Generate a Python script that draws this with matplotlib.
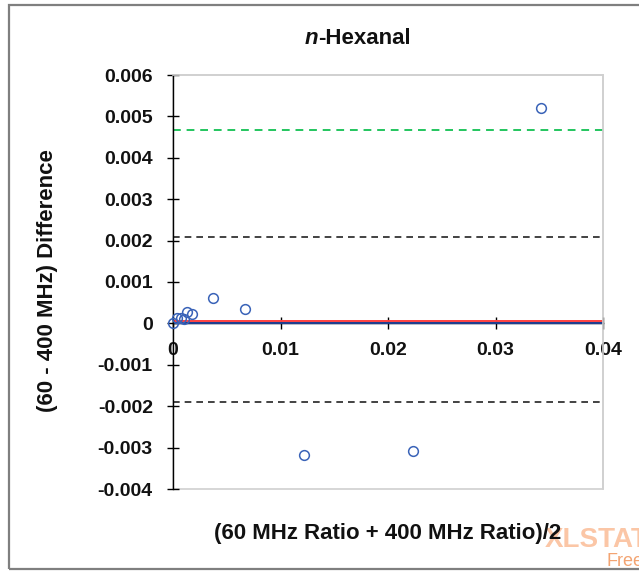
import matplotlib
matplotlib.use("Agg")
import matplotlib.pyplot as plt
from matplotlib.patches import Rectangle

plt.rcParams['font.family'] = ['Liberation Sans', 'DejaVu Sans']

# Bland-Altman data: mean of ratios vs. difference (60 - 400 MHz)
mean_ratio = [0.0, 0.00034, 0.00072, 0.0010, 0.0013, 0.00174, 0.00372, 0.0067,
              0.0122, 0.0223, 0.0342]
difference = [0.0, 0.00013, 0.00013, 0.00010, 0.000275, 0.00023, 0.000614, 0.00035,
              -0.00318, -0.00308, 0.0052]

bias = 0.00007
upper_loa = 0.00208
lower_loa = -0.0019
upper_limit_green = 0.00468

x_ticks = [0, 0.01, 0.02, 0.03, 0.04]
x_tick_labels = ['0', '0.01', '0.02', '0.03', '0.04']
y_ticks = [-0.004, -0.003, -0.002, -0.001, 0, 0.001, 0.002, 0.003, 0.004, 0.005, 0.006]
y_tick_labels = ['-0.004', '-0.003', '-0.002', '-0.001', '0', '0.001', '0.002',
                 '0.003', '0.004', '0.005', '0.006']

W, H = 639, 571
fig = plt.figure(figsize=(W / 100, H / 100), dpi=100)
ax = fig.add_axes([173 / W, 1 - 489 / H, (603 - 173) / W, (489 - 75) / H])
ax.set_xlim(0, 0.04)
ax.set_ylim(-0.004, 0.006)

# reference lines
ax.plot([0, 0.04], [0, 0], color='#1f3f8f', lw=1.6, zorder=2)
ax.plot([0, 0.04], [bias, bias], color='#ff4040', lw=1.4, zorder=2)
ax.plot([0, 0.04], [upper_loa, upper_loa], color='#222222', lw=1.2, ls=(0, (4, 3)), zorder=2)
ax.plot([0, 0.04], [lower_loa, lower_loa], color='#222222', lw=1.2, ls=(0, (4, 3)), zorder=2)
ax.plot([0, 0.04], [upper_limit_green, upper_limit_green], color='#22c55e', lw=1.4,
        ls=(0, (4, 3)), zorder=2)

ax.plot(mean_ratio, difference, ls='none', marker='o', ms=7.0, mfc='none',
        mec='#3a63b8', mew=1.1, zorder=4, clip_on=False)

# axes styling: light frame, y axis at x=0, x axis crossing at y=0
for s in ['top', 'right']:
    ax.spines[s].set_color('#d0d0d0')
    ax.spines[s].set_linewidth(1.2)
ax.spines['left'].set_color('black')
ax.spines['left'].set_linewidth(1.0)
ax.spines['bottom'].set_position(('data', 0))
ax.spines['bottom'].set_color('black')
ax.spines['bottom'].set_linewidth(1.0)
ax.spines['bottom'].set_zorder(1)
ax.add_patch(Rectangle((0, 0), 1, 1, transform=ax.transAxes, fill=False,
                       ec='#d0d0d0', lw=1.2, zorder=0, clip_on=False))

ax.set_xticks(x_ticks)
ax.set_xticklabels(x_tick_labels)
ax.set_yticks(y_ticks)
ax.set_yticklabels(y_tick_labels)
ax.tick_params(axis='both', direction='inout', length=9, width=1.0, color='black',
               labelsize=14)
ax.tick_params(axis='x', pad=9)
ax.tick_params(axis='y', pad=10)
for lab in ax.get_xticklabels() + ax.get_yticklabels():
    lab.set_fontweight('bold')
    lab.set_color('#111111')

# watermark (drawn beneath the axis title)
fig.text(545 / W, 1 - 540 / H, 'XLSTAT', fontsize=20, fontweight='bold',
         color='#fbc6a6', va='center', ha='left', zorder=1)
fig.text(606 / W, 1 - 561 / H, 'Free', fontsize=13, color='#f3a472',
         va='center', ha='left', zorder=1)

# axis titles
fig.text(48 / W, 1 - 281 / H, '(60 - 400 MHz) Difference', rotation=90,
         ha='center', va='center', fontsize=16, fontweight='bold', color='#111111',
         zorder=5)
fig.text(388 / W, 1 - 533 / H, '(60 MHz Ratio + 400 MHz Ratio)/2',
         ha='center', va='center', fontsize=16, fontweight='bold', color='#111111',
         zorder=5)

# chart title with italic prefix
fig.canvas.draw()
renderer = fig.canvas.get_renderer()
t1 = fig.text(0, 1 - 38 / H, 'n', fontsize=16, fontweight='bold', style='italic',
              va='center', color='#111111')
t2 = fig.text(0, 1 - 38 / H, '-Hexanal', fontsize=16, fontweight='bold',
              va='center', color='#111111')
w1 = t1.get_window_extent(renderer).width
w2 = t2.get_window_extent(renderer).width
x0 = 358 - (w1 + w2) / 2
t1.set_x(x0 / W)
t2.set_x((x0 + w1) / W)

# outer border
fig.patches.append(Rectangle((9 / W, 1 - 569 / H), (W + 10 - 9) / W, (569 - 5) / H,
                             transform=fig.transFigure, fill=False, ec='#7f7f7f',
                             lw=1.6))

fig.savefig('out.png', dpi=100)
